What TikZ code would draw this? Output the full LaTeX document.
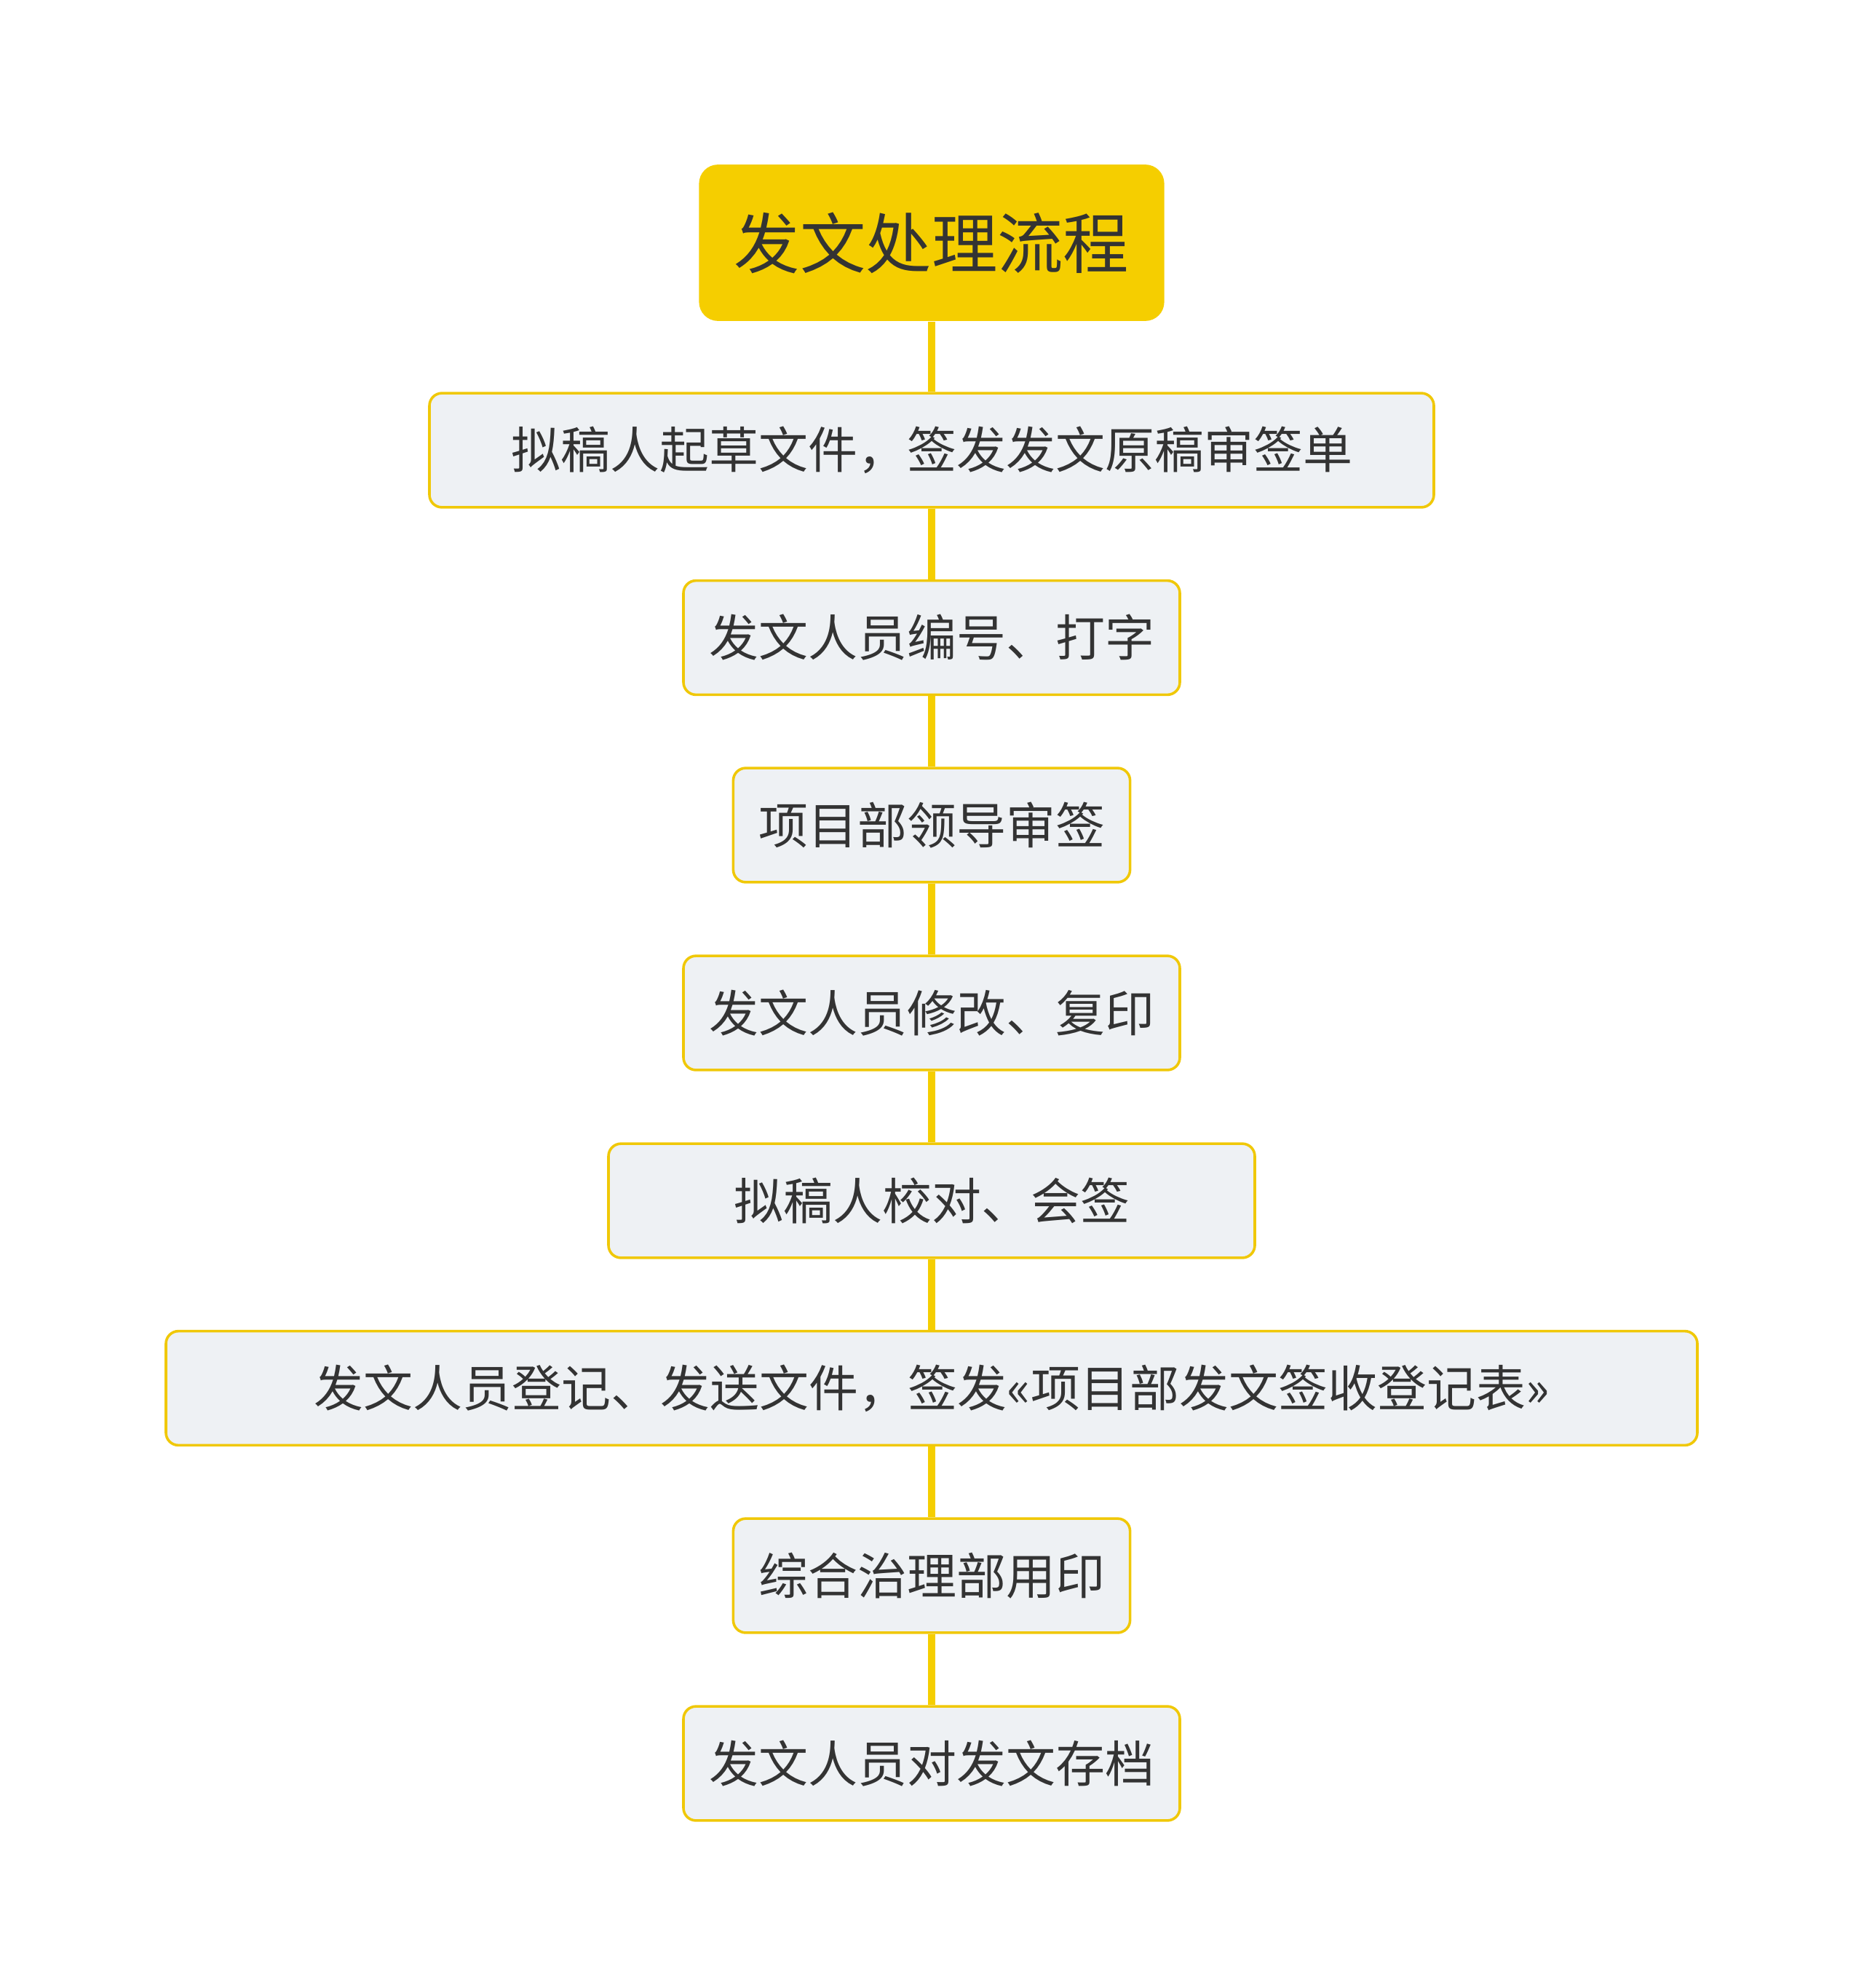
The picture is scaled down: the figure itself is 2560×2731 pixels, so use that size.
\documentclass[tikz,border=0pt]{standalone}
\usepackage{fontspec}
\setmainfont{Noto Sans CJK SC}
\definecolor{rootyellow}{HTML}{F5CE00}
\definecolor{edgeyellow}{HTML}{F0C808}
\definecolor{stepfill}{HTML}{EEF1F4}
\definecolor{textgray}{HTML}{333333}
\begin{document}
\begin{tikzpicture}[
    x=0.25pt, y=-0.25pt,
    root/.style={
        fill=rootyellow,
        rounded corners=6.5pt,
        minimum width=159.8pt,
        minimum height=53.7pt,
        inner sep=0pt,
        text=textgray,
        font=\fontsize{22.6pt}{27pt}\selectfont
    },
    stepbox/.style={
        draw=edgeyellow,
        line width=0.9pt,
        fill=stepfill,
        rounded corners=4.3pt,
        minimum height=39.2pt,
        inner sep=0pt,
        text=textgray,
        font=\fontsize{17pt}{20pt}\selectfont
    },
    link/.style={draw=rootyellow, line width=2.5pt}
]
    \useasboundingbox (0,0) rectangle (2560,2731);

    \node[root] (title) at (1280,333.5) {发文处理流程};

    \node[stepbox, minimum width=345pt] (draft) at (1280,618.5)
        {拟稿人起草文件，签发发文原稿审签单};
    \node[stepbox, minimum width=170.5pt] (number) at (1280,876)
        {发文人员编号、打字};
    \node[stepbox, minimum width=136.3pt] (review) at (1280,1133.5)
        {项目部领导审签};
    \node[stepbox, minimum width=170.5pt] (revise) at (1280,1391.5)
        {发文人员修改、复印};
    \node[stepbox, minimum width=222pt] (check) at (1280,1649.5)
        {拟稿人校对、会签};
    \node[stepbox, minimum width=526pt] (send) at (1280,1907)
        {发文人员登记、发送文件，签发«项目部发文签收登记表»};
    \node[stepbox, minimum width=136.3pt] (seal) at (1280,2164.5)
        {综合治理部用印};
    \node[stepbox, minimum width=170.5pt] (archive) at (1280,2422.5)
        {发文人员对发文存档};

    \draw[link] (title) -- (draft);
    \draw[link] (draft) -- (number);
    \draw[link] (number) -- (review);
    \draw[link] (review) -- (revise);
    \draw[link] (revise) -- (check);
    \draw[link] (check) -- (send);
    \draw[link] (send) -- (seal);
    \draw[link] (seal) -- (archive);
\end{tikzpicture}
\end{document}
